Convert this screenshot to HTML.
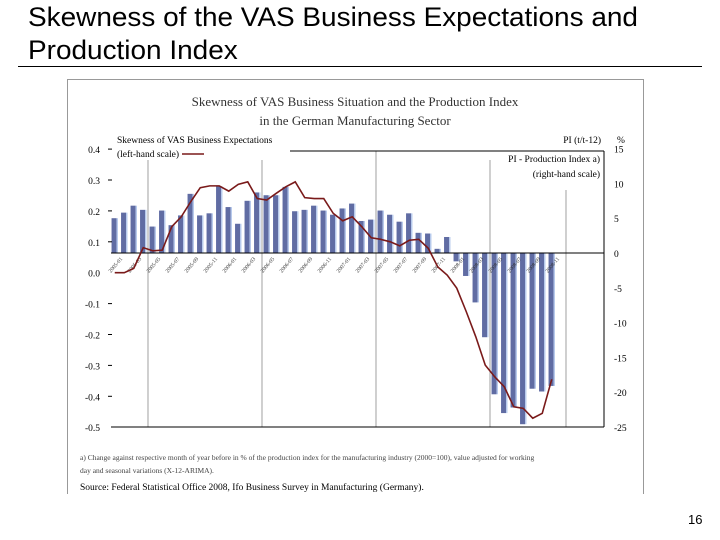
<!DOCTYPE html>
<html><head><meta charset="utf-8"><style>
body{margin:0;width:720px;height:540px;background:#fff;overflow:hidden;font-family:"Liberation Sans",sans-serif;position:relative}
.t{position:absolute;left:28px;font-size:27px;color:#000;transform-origin:0 0;transform:scaleX(1.035);white-space:nowrap}
</style></head><body>
<div class="t" style="top:2px">Skewness of the VAS Business Expectations and</div>
<div class="t" style="top:35px">Production Index</div>
<div style="position:absolute;left:18px;top:66px;width:684px;height:1px;background:#000"></div>
<div style="position:absolute;left:688px;top:512px;font-size:13px">16</div>
<svg id="chart" width="720" height="540" style="position:absolute;left:0;top:0" font-family="Liberation Serif, serif">
<rect x="67.5" y="79.5" width="576" height="420" fill="none" stroke="#999"/>
<rect x="66" y="494" width="580" height="10" fill="#fff"/>
<text x="355" y="106" font-size="13" text-anchor="middle" fill="#333">Skewness of VAS Business Situation and the Production Index</text>
<text x="355" y="125" font-size="13" text-anchor="middle" fill="#333">in the German Manufacturing Sector</text>
<text x="117" y="143" font-size="9.5">Skewness of VAS Business Expectations</text>
<text x="117" y="157" font-size="9.5">(left-hand scale)</text>
<line x1="182" y1="154" x2="204" y2="154" stroke="#7a1a1a" stroke-width="1.5"/>
<text x="601" y="143" font-size="9.5" text-anchor="end">PI (t/t-12)</text>
<text x="617" y="143" font-size="9.5">%</text>
<text x="600" y="162" font-size="9.5" text-anchor="end">PI - Production Index a)</text>
<text x="600" y="177" font-size="9.5" text-anchor="end">(right-hand scale)</text>
<text x="80" y="460" font-size="7.5" fill="#444">a) Change against respective month of year before in % of the production index for the manufacturing industry (2000=100), value adjusted for working</text>
<text x="80" y="473" font-size="7.5" fill="#444">day and seasonal variations (X-12-ARIMA).</text>
<text x="80" y="490" font-size="9.5">Source: Federal Statistical Office 2008, Ifo Business Survey in Manufacturing (Germany).</text>
<g id="plot"></g>
</svg>
<script>
const months=["2005-01","2005-02","2005-03","2005-04","2005-05","2005-06","2005-07","2005-08","2005-09","2005-10","2005-11","2005-12","2006-01","2006-02","2006-03","2006-04","2006-05","2006-06","2006-07","2006-08","2006-09","2006-10","2006-11","2006-12","2007-01","2007-02","2007-03","2007-04","2007-05","2007-06","2007-07","2007-08","2007-09","2007-10","2007-11","2007-12","2008-01","2008-02","2008-03","2008-04","2008-05","2008-06","2008-07","2008-08","2008-09","2008-10","2008-11"];
const piValues=[5.0,5.8,6.8,6.2,3.8,6.1,4.0,5.4,8.5,5.4,5.7,9.6,6.6,4.2,7.5,8.7,8.3,8.3,9.5,6.0,6.2,6.8,6.1,5.5,6.4,7.1,4.6,4.8,6.1,5.5,4.5,5.7,2.9,2.8,0.6,2.3,-1.2,-3.3,-7.1,-12.1,-20.3,-23.0,-22.2,-24.6,-19.5,-19.9,-19.1];
const skewValues=[0,0,0.014,0.081,0.071,0.073,0.149,0.181,0.230,0.275,0.281,0.281,0.264,0.286,0.294,0.240,0.235,0.257,0.278,0.294,0.243,0.240,0.240,0.192,0.168,0.181,0.149,0.113,0.108,0.100,0.087,0.105,0.108,0.079,0.019,-0.008,-0.05,-0.126,-0.207,-0.299,-0.337,-0.369,-0.434,-0.439,-0.471,-0.455,-0.345];
const leftTicks=[0.4,0.3,0.2,0.1,0,-0.1,-0.2,-0.3,-0.4,-0.5];
const leftTickLabels=["0.4","0.3","0.2","0.1","0.0","-0.1","-0.2","-0.3","-0.4","-0.5"];
const rightTicks=[15,10,5,0,-5,-10,-15,-20,-25];
const yearBoundaries=[4,16,28,40,48];
const NS="http://www.w3.org/2000/svg";
const X0=110,step=9.5,AXL=111,AXR=604;
const xs=i=>X0+step*(i+0.5);
const yL=v=>272.7-(v*309);
const yR=v=>253-v*(174/25);
const g=document.getElementById('plot');
function mk(t,a){const e=document.createElementNS(NS,t);for(const k in a)e.setAttribute(k,a[k]);g.appendChild(e);return e;}
yearBoundaries.forEach(b=>{const e=mk('line',{x1:X0+b*step,x2:X0+b*step,y1:b==48?190:b==28?151:160,y2:427,stroke:'#888','stroke-width':0.8});

});
piValues.forEach((v,i)=>{const x=xs(i)-3.2,y=Math.min(yR(v),yR(0)),h=Math.abs(yR(v)-yR(0));
const r=mk('rect',{x:x,y:y,width:5,height:h,fill:'#606ca3'});


const s=mk('rect',{x:x+5,y:y,width:1.4,height:h,fill:'#b4c8ec'});

});
[[AXL,AXR,253],[AXL,AXR,427],[290,AXR,151]].forEach((a,k)=>{const e=mk('line',{x1:a[0],x2:a[1],y1:a[2],y2:a[2],stroke:'#000','stroke-width':1});

});
const ra=mk('line',{x1:AXR,x2:AXR,y1:151,y2:427,stroke:'#000'});


leftTicks.forEach((v,i)=>{const t=mk('text',{x:100,y:yL(v)+4,'font-size':9.5,'text-anchor':'end'});t.textContent=leftTickLabels[i];


if(v!==0&&v!==-0.5){const m=mk('line',{x1:108,x2:112,y1:yL(v),y2:yL(v),stroke:'#000'});

}});
rightTicks.forEach(v=>{const t=mk('text',{x:614,y:yR(v)+4,'font-size':9.5});t.textContent=String(v);

});
months.forEach((m,i)=>{if(i%2)return;const x=xs(i)+2,y=266;const t=mk('text',{x:x,y:y,'font-size':5.5,fill:'#333',transform:`rotate(-50 ${x} ${y})`,'text-anchor':'middle'});t.textContent=m;

});
const p=mk('polyline',{points:skewValues.map((v,i)=>xs(i)+','+yL(v)).join(' '),fill:'none',stroke:'#7a1a1a','stroke-width':1.6});


</script>
</body></html>
